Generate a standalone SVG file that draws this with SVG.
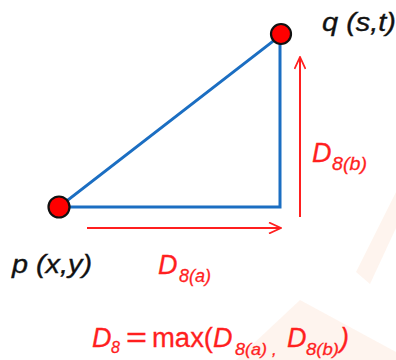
<svg xmlns="http://www.w3.org/2000/svg" width="396" height="360" viewBox="0 0 396 360">
<style>
.var{font-family:"Liberation Sans",Arial,sans-serif;font-style:italic;fill:#111;stroke:#111;stroke-width:0.35}
.red{font-family:"Liberation Sans",Arial,sans-serif;fill:#ff1f1f;stroke:#ff1f1f;stroke-width:0.3}
.it{font-style:italic}
.pt{fill:#f00;stroke:#111;stroke-width:2.2}
.blue{stroke:#1b6ec2;stroke-width:3;fill:none;stroke-linecap:square}
.arr{stroke:#ff1f1f;stroke-width:2;fill:none}
.wm{fill:#f08a40;opacity:0.09}
</style>
<defs>
<marker id="head" viewBox="0 0 14 12" refX="13" refY="6" markerWidth="14" markerHeight="12" markerUnits="userSpaceOnUse" orient="auto">
<path d="M1,0.5 L13,6 L1,11.5" fill="none" stroke="#ff1f1f" stroke-width="1.8"/>
</marker>
</defs>
<rect width="396" height="360" fill="#fff"/>
<g id="watermark">
<polygon class="wm" points="396,192 396,228 370,284 356,272"/>
<polygon class="wm" points="236,360 300,300 396,352 396,360"/>
</g>
<g id="connectors">
<line class="blue" x1="59" y1="207" x2="281" y2="35"/>
<polyline class="blue" points="59,207 280,207 280,35"/>
<line class="arr" x1="87" y1="228" x2="281" y2="228" marker-end="url(#head)"/>
<line class="arr" x1="300" y1="217" x2="300" y2="57" marker-end="url(#head)"/>
</g>
<g id="node-q">
<circle class="pt" cx="281" cy="34" r="10"/>
<text class="var" x="322" y="31" font-size="25" textLength="74" lengthAdjust="spacingAndGlyphs">q (s,t)</text>
</g>
<g id="node-p">
<circle class="pt" cx="59" cy="207" r="10.5"/>
<text class="var" x="12" y="273" font-size="25" textLength="80" lengthAdjust="spacingAndGlyphs">p (x,y)</text>
</g>
<g id="label-d8b">
<text class="red it" x="312" y="162" font-size="27">D</text>
<text class="red it" x="332" y="170" font-size="19" textLength="35" lengthAdjust="spacingAndGlyphs">8(b)</text>
</g>
<g id="label-d8a">
<text class="red it" x="158" y="274" font-size="27">D</text>
<text class="red it" x="179" y="282" font-size="18" textLength="32" lengthAdjust="spacingAndGlyphs">8(a)</text>
</g>
<g id="formula">
<text class="red it" x="92" y="347" font-size="27">D</text>
<text class="red it" x="111" y="353" font-size="16">8</text>
<text class="red" x="126" y="347" font-size="27" textLength="21" lengthAdjust="spacingAndGlyphs">=</text>
<text class="red" x="152" y="347" font-size="27" textLength="61" lengthAdjust="spacingAndGlyphs">max(</text>
<text class="red it" x="213" y="347" font-size="27">D</text>
<text class="red it" x="235" y="355" font-size="17" textLength="32" lengthAdjust="spacingAndGlyphs">8(a)</text>
<text class="red it" x="272" y="355" font-size="17">,</text>
<text class="red it" x="287" y="347" font-size="27">D</text>
<text class="red it" x="306" y="355" font-size="17" textLength="33" lengthAdjust="spacingAndGlyphs">8(b)</text>
<text class="red it" x="340" y="347" font-size="27">)</text>
</g>
</svg>
